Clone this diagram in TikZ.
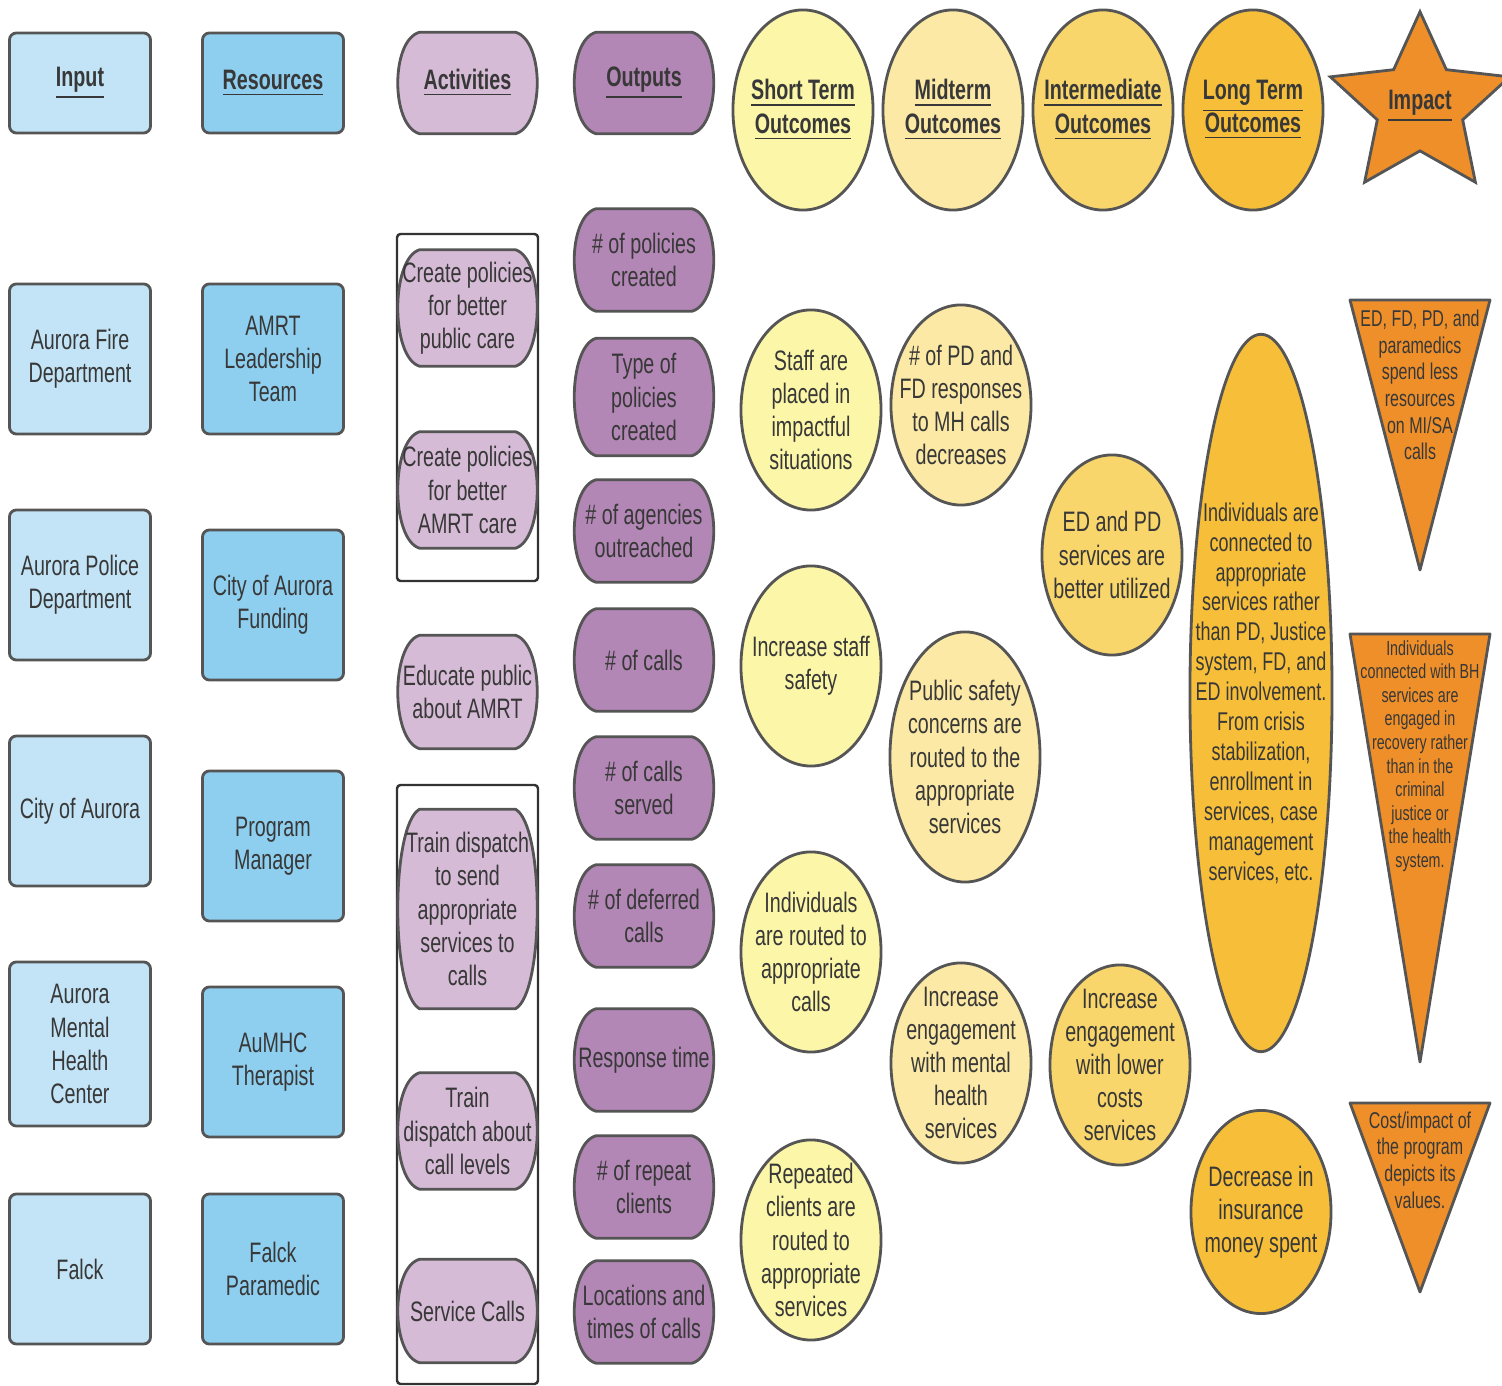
\documentclass[tikz,border=0pt]{standalone}
\usepackage{fontspec}
\setmainfont{Liberation Sans}[FakeStretch=0.7]
\usepackage{tikz}
\usetikzlibrary{shapes,calc,backgrounds}
\definecolor{edgec}{HTML}{555555}
\definecolor{txtc}{HTML}{383838}
\definecolor{inblue}{HTML}{C2E4F6}
\definecolor{resblue}{HTML}{8ECFEF}
\definecolor{actpink}{HTML}{D6BBD6}
\definecolor{outpurple}{HTML}{B286B5}
\definecolor{stc}{HTML}{FCF6A8}
\definecolor{midc}{HTML}{FBE9A5}
\definecolor{interc}{HTML}{F9D66B}
\definecolor{longc}{HTML}{F7BF39}
\definecolor{impc}{HTML}{EE8F2A}
\tikzset{
  lbl/.style={text=txtc,align=center,font=\fontsize{8}{9.4}\selectfont},
  head/.style={font=\fontsize{8}{9.4}\selectfont\bfseries},
  inbox/.style={lbl,draw=edgec,line width=0.8pt,rounded corners=2pt,fill=inblue,
    minimum width=1.41cm,minimum height=1.5cm,inner sep=0pt},
  resbox/.style={inbox,fill=resblue},
  term/.style={lbl,inner sep=0pt,minimum height=1.15cm},
  outterm/.style={term,minimum height=1.01cm},
  termline/.style={draw=edgec,line width=0.8pt,line join=round},
  oval/.style={lbl,ellipse,draw=edgec,line width=0.8pt,inner sep=-0.2cm,
    minimum width=1.4cm,minimum height=2cm},
  frame/.style={draw=black!80,line width=0.7pt,rounded corners=1pt},
  tri/.style={draw=edgec,line width=0.8pt,fill=impc,line join=round}
}
\newcommand{\termshape}[3]{%
  \draw[termline,fill=#2] ($(#1.north)+(-48,0)$) -- ($(#1.north)+(48,0)$)
    .. controls +(29,#3) and +(29,-#3) .. ($(#1.south)+(48,0)$)
    -- ($(#1.south)+(-48,0)$)
    .. controls +(-29,-#3) and +(-29,#3) .. ($(#1.north)+(-48,0)$) -- cycle;}
\begin{document}
\begin{tikzpicture}[x=0.01cm,y=-0.01cm]
\useasboundingbox (0,0) rectangle (1502,1386);
\node[inbox,head,minimum height=1cm] (input) at (80,83) {\underline{Input}};
\node[inbox] (fire) at (80,359) {Aurora Fire\\Department};
\node[inbox] (police) at (80,585) {Aurora Police\\Department};
\node[inbox] (city) at (80,811) {City of Aurora};
\node[inbox,minimum height=1.64cm] (aumhc) at (80,1044) {Aurora\\Mental\\Health\\Center};
\node[inbox] (falck) at (80,1269) {Falck};

\node[resbox,head,minimum height=1cm] (resources) at (273,83) {\underline{Resources}};
\node[resbox] (amrt) at (273,359) {AMRT\\Leadership\\Team};
\node[resbox] (funding) at (273,605) {City of Aurora\\Funding};
\node[resbox] (manager) at (273,846) {Program\\Manager};
\node[resbox] (therapist) at (273,1062) {AuMHC\\Therapist};
\node[resbox] (paramedic) at (273,1269) {Falck\\Paramedic};

\node[term,head,minimum height=1cm] (activities) at (467.5,83) {\underline{Activities}};
\node[term] (polpub) at (467.5,308) {Create policies\\for better\\public care};
\node[term] (polamrt) at (467.5,490) {Create policies\\for better\\AMRT care};
\node[term,minimum height=1.12cm] (educate) at (467.5,692) {Educate public\\about AMRT};
\node[term,minimum height=1.98cm] (trainsend) at (467.5,909) {Train dispatch\\to send\\appropriate\\services to\\calls};
\node[term] (trainlvl) at (467.5,1131) {Train\\dispatch about\\call levels};
\node[term,minimum height=1.02cm] (service) at (467.5,1311) {Service Calls};

\node[outterm,head,minimum height=1cm] (outputs) at (644,83) {\underline{Outputs}};
\node[outterm] (npol) at (644,260) {\# of policies\\created};
\node[outterm,minimum height=1.16cm] (typepol) at (644,397) {Type of\\policies\\created};
\node[outterm] (nagency) at (644,531) {\# of agencies\\outreached};
\node[outterm] (ncalls) at (644,660) {\# of calls};
\node[outterm] (nserved) at (644,788) {\# of calls\\served};
\node[outterm] (ndeferred) at (644,916) {\# of deferred\\calls};
\node[outterm] (resptime) at (644,1060) {Response time};
\node[outterm] (nrepeat) at (644,1187) {\# of repeat\\clients};
\node[outterm] (locations) at (644,1312) {Locations and\\times of calls};

\begin{scope}[on background layer]
\draw[frame] (397,234) rectangle (538,581);
\draw[frame] (397,785) rectangle (538,1384);
\foreach \n/\c/\d in {activities/actpink/8,polpub/actpink/9,polamrt/actpink/9,
  educate/actpink/9,trainsend/actpink/16,trainlvl/actpink/9,service/actpink/8,
  outputs/outpurple/8,npol/outpurple/8,typepol/outpurple/9,nagency/outpurple/8,
  ncalls/outpurple/8,nserved/outpurple/8,ndeferred/outpurple/8,
  resptime/outpurple/8,nrepeat/outpurple/8,locations/outpurple/8}
  \termshape{\n}{\c}{\d};
\end{scope}

\node[oval,fill=stc,head] (shortterm) at (803,110) {\underline{Short Term}\\\underline{Outcomes}};
\node[oval,fill=stc] (placed) at (811,410) {Staff are\\placed in\\impactful\\situations};
\node[oval,fill=stc] (safety) at (811,666) {Increase staff\\safety};
\node[oval,fill=stc] (routed) at (811,952) {Individuals\\are routed to\\appropriate\\calls};
\node[oval,fill=stc] (repeated) at (811,1240) {Repeated\\clients are\\routed to\\appropriate\\services};

\node[oval,fill=midc,head] (midterm) at (953,110) {\underline{Midterm}\\\underline{Outcomes}};
\node[oval,fill=midc] (responses) at (961,405) {\# of PD and\\FD responses\\to MH calls\\decreases};
\node[oval,fill=midc,minimum width=1.5cm,minimum height=2.5cm] (concerns) at (965,757) {Public safety\\concerns are\\routed to the\\appropriate\\services};
\node[oval,fill=midc] (engmh) at (961,1063) {Increase\\engagement\\with mental\\health\\services};

\node[oval,fill=interc,head] (intermediate) at (1103,110) {\underline{Intermediate}\\\underline{Outcomes}};
\node[oval,fill=interc] (utilized) at (1112,555) {ED and PD\\services are\\better utilized};
\node[oval,fill=interc] (englow) at (1120,1065) {Increase\\engagement\\with lower\\costs\\services};

\node[oval,fill=longc,head] (longterm) at (1253,110) {\underline{Long Term}\\\underline{Outcomes}};
\node[oval,fill=longc,minimum width=1.42cm,minimum height=7.17cm,font=\fontsize{7.3}{8.5}\selectfont] (connected) at (1261,693) {Individuals are\\connected to\\appropriate\\services rather\\than PD, Justice\\system, FD, and\\ED involvement.\\From crisis\\stabilization,\\enrollment in\\services, case\\management\\services, etc.};
\node[oval,fill=longc,minimum height=2.03cm] (insurance) at (1261,1212) {Decrease in\\insurance\\money spent};

\node[lbl,head,star,star points=5,star point ratio=2.1,minimum size=1.86cm,inner sep=0pt,draw=edgec,line width=0.8pt,fill=impc] (impact) at (1420,106) {\underline{Impact}};
\draw[tri] (1350,300) -- (1490,300) -- (1420,570) -- cycle;
\node[lbl,font=\fontsize{6.5}{7.6}\selectfont] (lessres) at (1420,385) {ED, FD, PD, and\\paramedics\\spend less\\resources\\on MI/SA\\calls};
\draw[tri] (1350,634) -- (1490,634) -- (1420,1062) -- cycle;
\node[lbl,font=\fontsize{5.8}{6.7}\selectfont] (recovery) at (1420,756) {Individuals\\connected with BH\\services are\\engaged in\\recovery rather\\than in the\\criminal\\justice or\\the health\\system.};
\draw[tri] (1350,1103) -- (1490,1103) -- (1420,1292) -- cycle;
\node[lbl,font=\fontsize{6.5}{7.6}\selectfont] (values) at (1420,1160) {Cost/impact of\\the program\\depicts its\\values.};
\end{tikzpicture}
\end{document}
